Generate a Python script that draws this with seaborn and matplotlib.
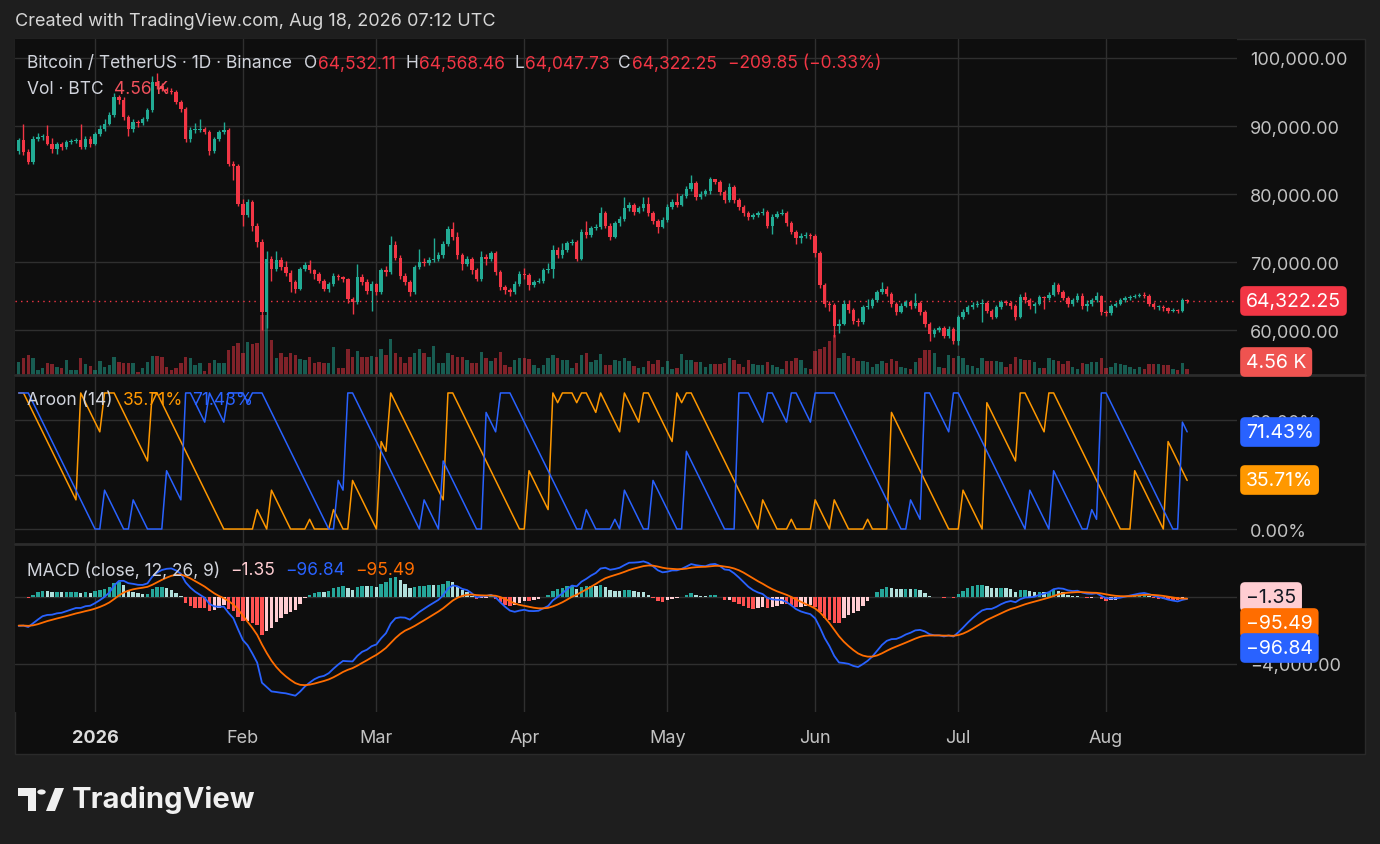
import numpy as np
import pandas as pd
import matplotlib
matplotlib.use("Agg")
import matplotlib.pyplot as plt
from matplotlib.lines import Line2D
from matplotlib.patches import Rectangle, Polygon, Circle
from matplotlib.ticker import FuncFormatter
import seaborn as sns

# BTC/USDT daily candles starting 2025-12-16, prices in thousand USD
start_date = "2025-12-16"
first_open_k = 86.4
close_k = [
    87.9, 86.2, 84.7, 88.1, 88.4, 88.6, 87.4, 86.7, 87.4, 86.9,
    87.6, 87.8, 87.9, 86.9, 88.1, 87.4, 88.9, 89.6, 90.3, 91.6,
    94.3, 93.8, 91.3, 89.6, 90.6, 90.4, 91.0, 92.3, 96.5, 95.9,
    95.5, 95.2, 95.0, 93.5, 92.5, 88.1, 89.4, 89.5, 89.6, 89.2,
    86.4, 88.1, 89.1, 89.4, 84.5, 84.1, 78.6, 77.0, 78.9, 75.4,
    73.0, 62.7, 70.5, 69.0, 70.3, 69.3, 68.5, 67.1, 66.1, 69.0,
    69.6, 68.8, 68.3, 67.3, 66.1, 66.8, 68.0, 67.8, 67.5, 64.6,
    64.1, 67.8, 67.1, 65.8, 66.8, 65.6, 68.8, 68.6, 72.5, 70.7,
    68.0, 67.1, 65.6, 69.3, 70.0, 69.9, 70.3, 70.5, 71.0, 72.7,
    74.9, 73.7, 71.0, 69.8, 70.5, 68.8, 67.6, 70.8, 70.5, 71.3,
    68.6, 66.4, 65.9, 65.6, 66.8, 68.3, 68.1, 66.6, 67.1, 67.3,
    68.8, 69.0, 71.8, 71.0, 71.8, 72.8, 73.0, 70.5, 74.5, 74.0,
    75.0, 75.2, 77.2, 75.4, 73.7, 75.7, 76.4, 77.9, 78.4, 77.4,
    77.9, 78.6, 77.2, 76.0, 75.2, 76.2, 78.1, 78.9, 78.4, 79.8,
    80.8, 81.6, 79.6, 80.0, 80.4, 82.2, 81.8, 80.3, 79.1, 81.0,
    79.1, 78.1, 77.2, 76.6, 76.9, 77.2, 77.4, 75.4, 76.7, 77.1,
    77.3, 75.7, 74.5, 73.5, 73.9, 74.0, 73.8, 71.3, 66.6, 63.9,
    63.7, 60.7, 61.0, 63.9, 63.0, 61.4, 61.2, 63.4, 63.6, 64.4,
    65.6, 66.1, 65.4, 63.9, 62.7, 63.6, 64.1, 63.6, 64.0, 62.7,
    61.0, 59.5, 60.0, 60.3, 59.2, 60.2, 58.5, 61.9, 62.7, 63.4,
    63.7, 63.9, 64.0, 62.9, 62.0, 63.4, 64.1, 64.0, 63.6, 62.0,
    64.9, 64.4, 63.6, 63.9, 64.9, 64.7, 65.2, 66.6, 65.6, 64.8,
    63.9, 64.4, 65.1, 63.6, 63.9, 64.4, 65.0, 62.7, 62.6, 63.6,
    63.9, 64.4, 64.7, 64.9, 65.1, 65.2, 65.1, 63.9, 63.4, 63.5,
    63.3, 62.9, 63.0, 62.9, 64.53211, 64.32225,
]
high_k = [
    88.3, 90.3, 86.6, 88.5, 89.0, 88.9, 90.1, 88.3, 87.7, 87.6,
    88.0, 88.1, 88.3, 90.3, 88.5, 88.6, 89.2, 90.2, 91.0, 92.1,
    94.8, 94.6, 94.3, 91.6, 91.0, 90.9, 91.4, 92.6, 97.4, 97.8,
    96.3, 95.8, 95.6, 95.3, 93.8, 92.8, 89.9, 90.4, 91.1, 89.9,
    89.4, 88.4, 89.5, 90.6, 89.7, 84.9, 84.4, 79.3, 79.3, 79.2,
    75.8, 73.4, 71.6, 70.9, 71.7, 70.8, 70.2, 68.9, 67.4, 69.3,
    70.1, 70.4, 69.0, 68.6, 67.6, 67.1, 68.4, 68.3, 68.0, 67.7,
    64.9, 69.7, 68.3, 67.5, 67.2, 67.0, 69.2, 69.4, 73.9, 73.2,
    71.0, 68.4, 67.4, 69.6, 71.9, 70.6, 70.8, 73.6, 71.5, 73.1,
    75.3, 75.9, 74.4, 71.3, 70.9, 70.8, 69.1, 71.7, 71.2, 71.7,
    71.6, 68.9, 66.7, 66.2, 67.2, 68.7, 69.2, 68.4, 67.4, 67.7,
    69.1, 69.9, 72.6, 72.2, 72.9, 73.2, 73.4, 73.3, 74.9, 76.0,
    75.4, 75.6, 78.1, 77.5, 75.7, 76.1, 76.8, 79.6, 78.8, 78.7,
    78.3, 79.6, 79.6, 77.5, 76.3, 76.6, 78.5, 79.3, 80.2, 80.1,
    81.2, 82.8, 81.9, 80.4, 80.8, 82.5, 82.3, 82.1, 80.6, 81.7,
    81.3, 79.4, 78.4, 77.5, 77.3, 77.6, 77.9, 77.7, 77.1, 77.5,
    77.8, 77.6, 76.0, 74.8, 74.3, 74.4, 74.3, 74.1, 71.6, 66.9,
    64.3, 64.0, 61.6, 64.4, 64.4, 63.3, 61.8, 63.8, 64.6, 64.8,
    66.0, 67.1, 66.5, 65.7, 64.2, 64.0, 64.5, 64.4, 65.5, 64.3,
    63.0, 61.3, 60.4, 60.7, 60.6, 60.6, 60.5, 62.3, 63.1, 63.8,
    64.1, 64.3, 64.6, 64.3, 63.2, 63.8, 64.5, 64.4, 64.3, 63.9,
    65.3, 65.6, 64.7, 64.2, 65.2, 65.1, 65.6, 67.1, 66.9, 65.9,
    65.1, 64.7, 65.5, 65.5, 64.4, 64.7, 65.7, 65.2, 63.0, 63.9,
    64.2, 64.8, 65.0, 65.2, 65.4, 65.5, 65.6, 65.3, 64.2, 63.8,
    63.7, 63.5, 63.3, 63.2, 64.7, 64.56846,
]
low_k = [
    85.9, 85.8, 84.4, 84.5, 87.8, 88.0, 87.2, 86.1, 85.9, 86.5,
    86.7, 87.4, 87.5, 86.6, 86.7, 87.0, 87.2, 88.6, 89.3, 90.1,
    91.4, 93.2, 90.9, 88.6, 89.2, 89.9, 90.2, 90.8, 92.1, 95.4,
    95.1, 94.9, 94.7, 93.2, 92.1, 87.7, 87.6, 89.0, 89.2, 88.9,
    85.8, 86.0, 87.8, 88.9, 84.2, 82.1, 78.3, 75.4, 76.6, 74.6,
    72.2, 60.1, 60.4, 67.3, 68.7, 68.9, 68.0, 65.7, 65.5, 65.9,
    68.7, 68.4, 67.6, 66.9, 65.8, 65.7, 66.5, 67.4, 67.1, 64.0,
    62.4, 63.9, 66.7, 65.3, 62.8, 65.2, 65.4, 68.0, 68.3, 70.3,
    67.6, 66.6, 65.1, 65.3, 69.0, 69.4, 69.6, 70.0, 70.2, 70.7,
    72.4, 73.3, 70.5, 68.9, 69.4, 68.3, 67.2, 67.3, 69.6, 70.2,
    68.2, 65.9, 65.4, 65.1, 65.4, 66.5, 67.5, 66.0, 66.3, 66.9,
    67.0, 68.4, 67.7, 70.6, 70.7, 71.5, 72.5, 70.2, 70.3, 73.6,
    73.7, 74.7, 74.9, 75.0, 73.3, 73.5, 75.4, 76.1, 77.6, 77.0,
    77.2, 77.6, 76.8, 75.6, 74.3, 75.0, 75.9, 77.8, 78.1, 78.2,
    79.5, 80.5, 79.2, 79.3, 79.7, 80.1, 81.5, 79.9, 78.7, 78.8,
    78.7, 77.7, 76.8, 76.2, 76.3, 76.7, 77.0, 75.0, 74.2, 76.5,
    76.9, 75.3, 74.1, 72.7, 72.9, 73.6, 73.4, 70.8, 66.2, 63.4,
    62.9, 59.0, 59.6, 60.8, 62.6, 61.0, 60.7, 61.0, 63.2, 63.3,
    64.1, 65.4, 65.0, 63.5, 62.2, 62.5, 63.4, 63.2, 63.3, 62.3,
    60.5, 58.4, 59.1, 59.7, 58.9, 58.9, 58.0, 57.8, 61.6, 62.4,
    63.1, 63.5, 61.3, 62.5, 61.6, 61.8, 63.2, 63.7, 63.2, 61.5,
    61.8, 64.0, 63.2, 62.5, 63.7, 63.2, 64.5, 65.0, 65.3, 64.4,
    63.5, 63.6, 64.2, 63.2, 62.8, 63.6, 64.1, 62.3, 62.1, 62.3,
    63.4, 63.7, 64.2, 64.5, 64.7, 64.9, 64.8, 63.6, 63.1, 63.0,
    62.9, 62.5, 62.7, 62.6, 62.7, 64.04773,
]
# thousand BTC
volume_k = [
    10.4, 13.6, 16.0, 13.6, 4.0, 5.6, 9.6, 8.8, 6.4, 5.6,
    12.0, 4.0, 4.0, 13.6, 8.8, 7.2, 4.0, 11.2, 6.4, 8.0,
    14.4, 10.4, 9.6, 9.6, 9.6, 2.4, 5.6, 10.4, 15.2, 15.2,
    14.4, 6.4, 4.0, 5.6, 9.6, 14.4, 13.6, 8.0, 9.6, 3.2,
    9.6, 12.0, 9.6, 9.6, 20.0, 23.2, 25.6, 17.6, 26.4, 24.8,
    25.6, 48.0, 48.0, 28.0, 13.6, 17.6, 14.4, 17.6, 16.0, 12.8,
    12.0, 14.4, 9.6, 10.4, 9.6, 9.6, 22.4, 5.6, 5.6, 20.8,
    14.4, 19.2, 14.4, 14.4, 15.2, 14.4, 20.8, 16.0, 28.8, 17.6,
    14.4, 9.6, 14.4, 17.6, 20.8, 17.6, 14.4, 23.2, 9.6, 9.6,
    17.6, 16.0, 14.4, 14.4, 12.0, 9.6, 9.6, 18.4, 13.6, 11.2,
    13.6, 18.4, 8.0, 6.4, 12.0, 13.6, 13.6, 12.8, 8.0, 5.6,
    8.0, 13.6, 16.0, 13.6, 12.0, 12.0, 5.6, 9.6, 16.0, 17.6,
    10.4, 12.0, 16.8, 8.0, 8.0, 12.0, 11.2, 13.6, 11.2, 7.2,
    5.6, 6.4, 11.2, 8.8, 12.0, 6.4, 11.2, 4.8, 5.6, 16.8,
    12.0, 12.0, 10.4, 10.4, 6.4, 8.8, 8.8, 8.8, 9.6, 13.6,
    12.0, 8.8, 6.4, 12.0, 8.8, 8.0, 8.0, 10.4, 8.0, 6.4,
    4.8, 11.2, 11.2, 13.6, 12.0, 5.6, 4.8, 19.2, 20.8, 22.4,
    27.2, 32.0, 13.6, 17.6, 15.2, 13.6, 11.2, 11.2, 10.4, 6.4,
    8.8, 11.2, 9.6, 12.8, 11.2, 6.4, 5.6, 4.8, 10.4, 13.6,
    20.0, 20.0, 17.6, 6.4, 5.6, 16.0, 13.6, 15.2, 13.6, 8.0,
    7.2, 5.6, 13.6, 11.2, 11.2, 11.2, 10.4, 6.4, 8.8, 14.4,
    12.8, 12.0, 12.0, 10.4, 5.6, 5.6, 13.6, 12.0, 11.2, 8.8,
    11.2, 6.4, 4.8, 9.6, 8.8, 10.4, 10.4, 13.6, 5.6, 6.4,
    9.6, 8.8, 8.0, 6.4, 4.8, 6.4, 4.8, 8.8, 8.8, 8.8,
    8.0, 8.0, 4.8, 4.0, 9.6, 4.56,
]

# legend readouts as shown on the chart
price_change_text = "−209.85 (−0.33%)"
aroon_texts = ["35.71%", "71.43%"]
macd_texts = ["−1.35", "−96.84", "−95.49"]

# EMA state carried in from before the visible window
ema_fast_start, ema_slow_start, signal_start = 87500.0, 89400.0, -1700.0
aroon_len = 14

close = np.array(close_k) * 1000
high = np.array(high_k) * 1000
low = np.array(low_k) * 1000
volume = np.array(volume_k)
opn = np.r_[first_open_k * 1000, close[:-1]]
dates = pd.date_range(start_date, periods=len(close), freq="D")
x = np.arange(len(close))


def ema(values, span, start):
    a = 2.0 / (span + 1)
    out = np.empty(len(values))
    prev = start
    for k, v in enumerate(values):
        prev = prev + a * (v - prev)
        out[k] = prev
    return out


macd = ema(close, 12, ema_fast_start) - ema(close, 26, ema_slow_start)
signal = ema(macd, 9, signal_start)
hist = macd - signal

aroon_up = pd.Series(high).rolling(aroon_len + 1, min_periods=1).apply(
    lambda w: 100 * (aroon_len - np.argmax(w[::-1])) / aroon_len, raw=True).values
aroon_down = pd.Series(low).rolling(aroon_len + 1, min_periods=1).apply(
    lambda w: 100 * (aroon_len - np.argmin(w[::-1])) / aroon_len, raw=True).values

# colours
W, H = 1380, 845
BG = "#1e1e1e"
PANE = "#0e0e0e"
GRID = "#2f2f2f"
TXT = "#d1d4dc"
AXTXT = "#c2c2c2"
UP = "#22ab94"
DOWN = "#f23645"
BLUE = "#2962ff"
ORANGE = "#ff9800"
SIG = "#ff6d00"

sns.set_theme(style="dark", rc={"figure.facecolor": BG, "axes.facecolor": PANE})
plt.rcParams["font.family"] = ["Inter", "DejaVu Sans"]

fig = plt.figure(figsize=(W / 100, H / 100), dpi=100)
fig.patch.set_facecolor(BG)

fig.add_artist(Rectangle((15 / W, 1 - 755 / H), 1350 / W, 715 / H, transform=fig.transFigure,
                         facecolor=PANE, edgecolor="#2a2a2a", lw=1, zorder=-5))


def pane_rect(top, bottom):
    return [15 / W, 1 - bottom / H, 1222 / W, (bottom - top) / H]


ax_p = fig.add_axes(pane_rect(40, 376))
ax_a = fig.add_axes(pane_rect(376, 545), sharex=ax_p)
ax_m = fig.add_axes(pane_rect(545, 713), sharex=ax_p)

month_idx = np.where(dates.day == 1)[0]
month_lbl = [d.strftime("%Y") if d.month == 1 else d.strftime("%b") for d in dates[month_idx]]

# price pane: candles + volume
col = np.where(close >= opn, UP, DOWN)
ax_p.vlines(x, low, high, colors=col, lw=1, zorder=3)
body = np.maximum(np.abs(close - opn), 110)
ax_p.bar(x, body, bottom=np.minimum(opn, close), width=0.72, color=col, lw=0, zorder=4)
ax_p.axhline(close[-1], color=DOWN, ls=(0, (1, 3)), lw=1, zorder=2)
ax_p.set_ylim(53450, 102790)
ax_p.set_yticks([60000, 70000, 80000, 90000, 100000])
ax_p.yaxis.set_major_formatter(FuncFormatter(lambda v, _: f"{v:,.2f}"))

ax_v = ax_p.twinx()
ax_v.bar(x, volume, width=0.72, color=col, alpha=0.5, lw=0)
ax_v.set_ylim(0, 269)
ax_v.axis("off")

# aroon pane
sns.lineplot(x=x, y=aroon_up, ax=ax_a, color=ORANGE, lw=1.1)
sns.lineplot(x=x, y=aroon_down, ax=ax_a, color=BLUE, lw=1.1)
ax_a.set_ylim(-11.0, 113.2)
ax_a.set_yticks([0, 40, 80])
ax_a.yaxis.set_major_formatter(FuncFormatter(lambda v, _: f"{v:.2f}%"))

# macd pane
prev = np.r_[hist[0], hist[:-1]]
hcol = np.where(hist >= 0, np.where(hist >= prev, "#26a69a", "#b2dfdb"),
                np.where(hist < prev, "#ff5252", "#ffcdd2"))
ax_m.bar(x, hist, width=0.72, color=hcol, lw=0)
sns.lineplot(x=x, y=macd, ax=ax_m, color=BLUE, lw=1.3)
sns.lineplot(x=x, y=signal, ax=ax_m, color=SIG, lw=1.3)
ax_m.set_ylim(-6866, 3164)
ax_m.set_yticks([-4000, 0])
ax_m.yaxis.set_major_formatter(FuncFormatter(lambda v, _: f"{v:,.2f}".replace("-", "−")))

# styling after twinx (twinx moves the price ticks to the left)
for ax in (ax_p, ax_a, ax_m):
    ax.set_facecolor(PANE)
    for s in ax.spines.values():
        s.set_visible(False)
    ax.yaxis.tick_right()
    ax.yaxis.set_label_position("right")
    ax.tick_params(axis="y", length=0, colors=AXTXT, labelsize=13, pad=9.5,
                   labelleft=False, labelright=True)
    ax.tick_params(axis="x", length=0, colors=AXTXT, labelsize=13, pad=12)
    ax.grid(True, color=GRID, lw=1)
    ax.set_axisbelow(True)
    ax.set_xlabel("")
    ax.set_ylabel("")

ax_m.set_xticks(month_idx)
ax_m.set_xticklabels(month_lbl)
for t in ax_m.get_xticklabels():
    if t.get_text().isdigit():
        t.set_fontweight("bold")
        t.set_color("#dcdcdc")
ax_p.tick_params(labelbottom=False)
ax_a.tick_params(labelbottom=False)
ax_p.set_xlim(-0.78, 255.45)

# separators between panes
for yy in (376, 545):
    fig.add_artist(Line2D([15 / W, 1365 / W], [1 - yy / H] * 2, transform=fig.transFigure,
                          color="#2c2c2c", lw=2))

renderer = fig.canvas.get_renderer()


def text_row(x0, y, pieces, size=12.5):
    xx = x0
    for s, c, gap in pieces:
        t = fig.text(xx / W, 1 - y / H, s, color=c, fontsize=size, va="center", ha="left")
        xx = t.get_window_extent(renderer=renderer).x1 + gap


def tag(y, s, fc, tc="white"):
    fig.text(1246 / W, 1 - y / H, s, color=tc, fontsize=14, va="center", ha="left", zorder=10,
             bbox=dict(boxstyle="round,pad=0.3,rounding_size=0.25", fc=fc, ec="none"))


fig.text(15 / W, 1 - 22 / H, "Created with TradingView.com, Aug 18, 2026 07:12 UTC",
         color="#d6d6d6", fontsize=13, va="center", ha="left")

text_row(27, 64, [
    ("Bitcoin / TetherUS · 1D · Binance", TXT, 12),
    ("O", TXT, 1), (f"{opn[-1]:,.2f}", DOWN, 9),
    ("H", TXT, 1), (f"{high[-1]:,.2f}", DOWN, 9),
    ("L", TXT, 1), (f"{low[-1]:,.2f}", DOWN, 9),
    ("C", TXT, 1), (f"{close[-1]:,.2f}", DOWN, 11),
    (price_change_text, DOWN, 0),
])
text_row(27, 89, [("Vol · BTC", TXT, 10), (f"{volume[-1]:.2f} K", "#f0515c", 0)])
text_row(27, 401, [("Aroon (14)", TXT, 10), (aroon_texts[0], ORANGE, 9), (aroon_texts[1], BLUE, 0)])
text_row(27, 571, [("MACD (close, 12, 26, 9)", TXT, 10), (macd_texts[0], "#ffcdd2", 10),
                   (macd_texts[1], BLUE, 10), (macd_texts[2], SIG, 0)])

# right-scale value tags
y_close = H - ax_p.transData.transform((0, close[-1]))[1]
tag(y_close, f"{close[-1]:,.2f}", DOWN)
tag(363, f"{volume[-1]:.2f} K", "#ef5350")
tag(433, aroon_texts[1], BLUE)
tag(481, aroon_texts[0], "#ff9800")
tag(598, macd_texts[0], "#ffcdd2", "#131722")
tag(624, macd_texts[2], SIG)
tag(649, macd_texts[1], BLUE)


# TradingView logo
def fpt(px, py):
    return (px / W, 1 - py / H)


fig.add_artist(Polygon([fpt(18, 789), fpt(36, 789), fpt(36, 812), fpt(28, 812), fpt(28, 797), fpt(18, 797)],
                       closed=True, transform=fig.transFigure, fc="#f0f0f0", ec="none"))
fig.add_artist(Circle(fpt(41.5, 793), 4.2 / W, transform=fig.transFigure, fc="#f0f0f0", ec="none"))
fig.add_artist(Polygon([fpt(46, 812), fpt(55, 789), fpt(64, 789), fpt(55, 812)],
                       closed=True, transform=fig.transFigure, fc="#f0f0f0", ec="none"))
fig.text(72 / W, 1 - 800 / H, "TradingView", color="#f0f0f0", fontsize=21, fontweight="bold",
         va="center", ha="left")

fig.savefig("out.png", dpi=100, facecolor=BG)
